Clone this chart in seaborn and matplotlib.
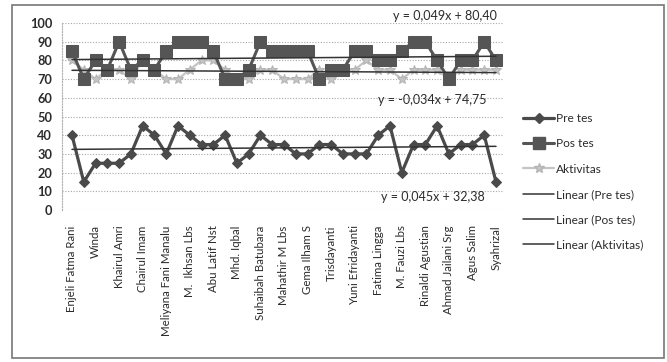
import numpy as np
import pandas as pd
import matplotlib
matplotlib.use("Agg")
import matplotlib.pyplot as plt
from matplotlib.lines import Line2D
from matplotlib.patches import Rectangle
import seaborn as sns

# Students 1..37 (only every second name is printed on the axis)
student_no = list(range(1, 38))
shown_names = [
    "Enjeli Fatma Rani", "Winda", "Khairul Amri", "Chairul Imam",
    "Meliyana Fani Manalu", "M.  Ikhsan Lbs", "Abu Latif Nst", "Mhd. Iqbal",
    "Suhaibah Batubara", "Mahathir M Lbs", "Gema Ilham S", "Trisdayanti",
    "Yuni Efridayanti", "Fatima Lingga", "M. Fauzi Lbs", "Rinaldi Agustian",
    "Ahmad Jailani Srg", "Agus Salim", "Syahrizal",
]
shown_no = [1, 3, 5, 7, 9, 11, 13, 15, 17, 19, 21, 23, 25, 27, 29, 31, 33, 35, 37]

pre_tes = [40, 15, 25, 25, 25, 30, 45, 40, 30, 45, 40, 35, 35, 40, 25, 30, 40, 35, 35,
           30, 30, 35, 35, 30, 30, 30, 40, 45, 20, 35, 35, 45, 30, 35, 35, 40, 15]
pos_tes = [85, 70, 80, 75, 90, 75, 80, 75, 85, 90, 90, 90, 85, 70, 70, 75, 90, 85, 85,
           85, 85, 70, 75, 75, 85, 85, 80, 80, 85, 90, 90, 80, 70, 80, 80, 90, 80]
aktivitas = [80, 75, 70, 75, 75, 70, 80, 75, 70, 70, 75, 80, 80, 75, 70, 70, 75, 75, 70,
             70, 70, 75, 70, 75, 75, 80, 75, 75, 70, 75, 75, 75, 70, 75, 75, 75, 75]

# Linear trend coefficients (slope, intercept) as printed on the chart
trend_names = ["Linear (Pre tes)", "Linear (Pos tes)", "Linear (Aktivitas)"]
trend_slope = [0.045, 0.049, -0.034]
trend_icpt = [32.38, 80.40, 74.75]

df = pd.DataFrame({"no": student_no, "Pre tes": pre_tes,
                   "Pos tes": pos_tes, "Aktivitas": aktivitas})

sns.set_style("white")
plt.rcParams["font.family"] = ["Lato", "DejaVu Sans"]
txt = "#2b2b2b"

W, H = 667, 362
fig = plt.figure(figsize=(W / 100, H / 100), dpi=100)
fig.patch.set_facecolor("white")
fig.patches.append(Rectangle((12 / W, 1 - 358 / H), (664 - 12) / W, (358 - 5) / H,
                             transform=fig.transFigure, fill=False,
                             edgecolor="#777777", lw=1.2))

ax = fig.add_axes([62 / W, 1 - 210 / H, (503 - 62) / W, (210 - 23) / H])
ax.set_facecolor("none")

# series
sns.lineplot(data=df, x="no", y="Aktivitas", ax=ax, color="#c4c4c4", lw=1.6,
             marker="*", markersize=7, markeredgecolor="#b4b4b4", zorder=3)
sns.lineplot(data=df, x="no", y="Pos tes", ax=ax, color="#555555", lw=2.2,
             marker="s", markersize=8.5, markeredgecolor="#555555", zorder=4)
sns.lineplot(data=df, x="no", y="Pre tes", ax=ax, color="#4a4a4a", lw=2.3,
             marker="D", markersize=5, markeredgecolor="#4a4a4a", zorder=5)

# trend lines from the stated coefficients
x_end = np.array([student_no[0], student_no[-1]])
for a, b in zip(trend_slope, trend_icpt):
    sns.lineplot(x=x_end, y=a * x_end + b, ax=ax, color="#333333", lw=1.1, zorder=6)

def eq_text(a, b):
    s = f"y = {a:.3f}x + {b:.2f}"
    return s.replace(".", ",")

eq_pos = [(31.6, 7.0), (32.7, 103.8), (31.6, 59.0)]
for (a, b), (ex, ey) in zip(zip(trend_slope, trend_icpt), eq_pos):
    ax.text(ex, ey, eq_text(a, b), ha="center", va="center", fontsize=9,
            color=txt, clip_on=False, zorder=7)

ax.set_xlim(1 - 10 / 11.78, 37 + 7 / 11.78)
ax.set_ylim(0, 100)
ax.set_yticks(range(0, 101, 10))
ax.set_xticks(shown_no)
ax.set_xticklabels(shown_names, rotation=90, fontsize=8.3, color=txt)
ax.set_xticks([n for n in student_no if n not in shown_no], minor=True)
ax.tick_params(axis="x", which="both", length=3, color="#bbbbbb", pad=8)
ax.tick_params(axis="y", length=0, pad=7, labelsize=9.2, labelcolor=txt)
for t in ax.get_yticklabels():
    t.set_fontweight("bold")
ax.set_xlabel("")
ax.set_ylabel("")

ax.yaxis.grid(True, linestyle=(0, (1, 1.5)), color="#a8a8a8", lw=0.8)
ax.xaxis.grid(False)
for side in ["top", "right", "bottom"]:
    ax.spines[side].set_visible(False)
ax.spines["left"].set_linestyle((0, (1, 1.5)))
ax.spines["left"].set_color("#b0b0b0")
ax.spines["left"].set_linewidth(0.8)

handles = [
    Line2D([], [], color="#4a4a4a", lw=2.3, marker="D", markersize=5),
    Line2D([], [], color="#555555", lw=2.2, marker="s", markersize=8.5),
    Line2D([], [], color="#c4c4c4", lw=1.6, marker="*", markersize=7,
           markeredgecolor="#b4b4b4"),
] + [Line2D([], [], color="#333333", lw=1.1) for _ in trend_names]
labels = ["Pre tes", "Pos tes", "Aktivitas"] + trend_names
fig.legend(handles, labels, loc="upper left", bbox_to_anchor=(523 / W, 1 - 113 / H),
           frameon=False, fontsize=8.6, handlelength=2.6, handletextpad=0.2,
           labelspacing=1.2, labelcolor=txt, borderaxespad=0, borderpad=0)

fig.savefig("out.png", dpi=100)
